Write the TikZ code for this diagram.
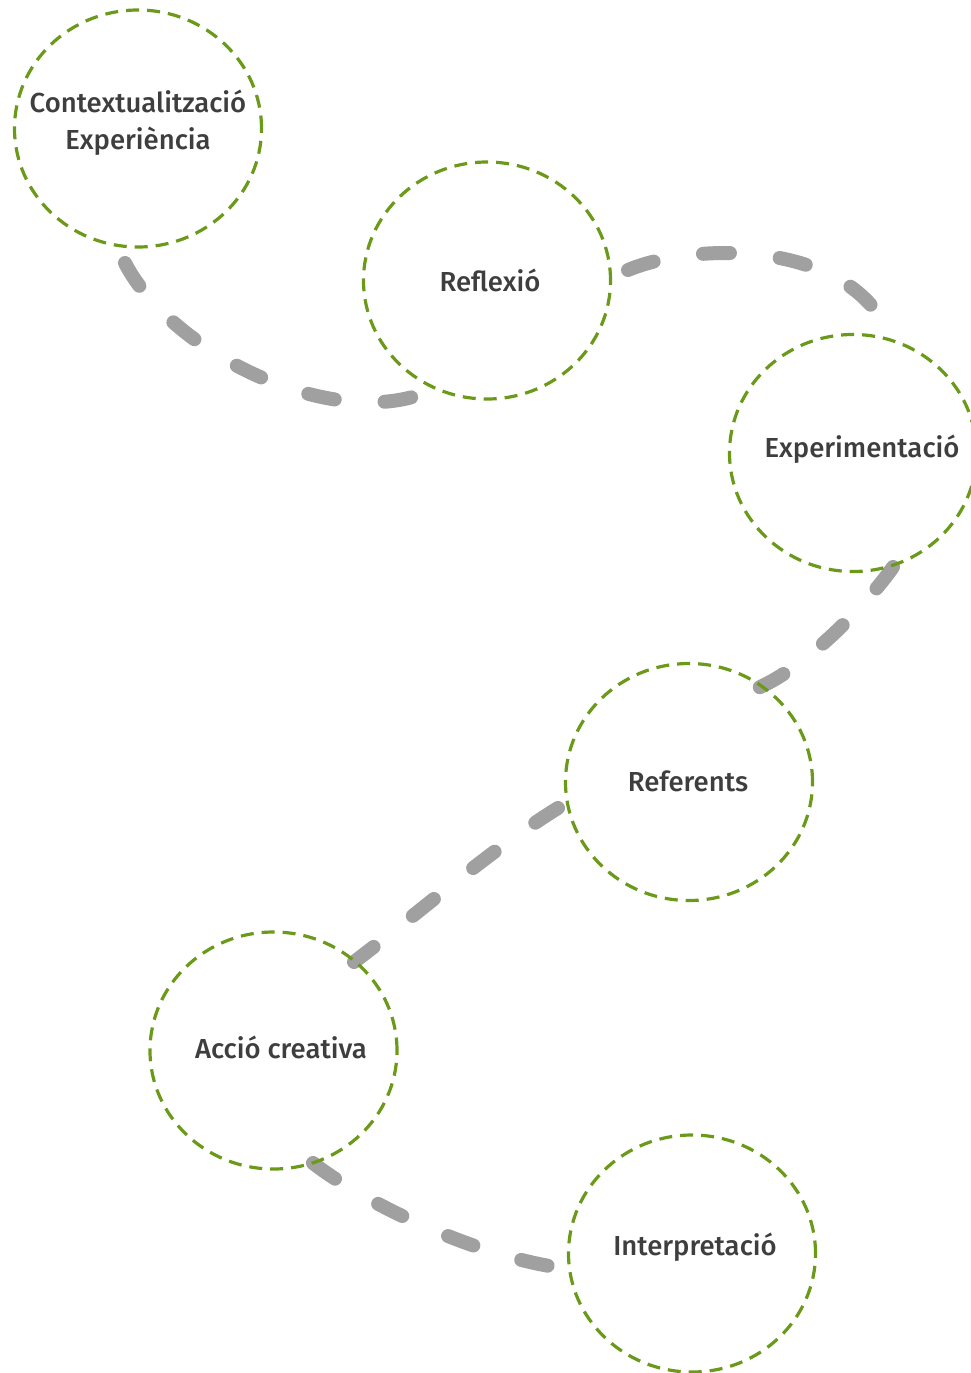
\documentclass[tikz,border=0pt]{standalone}
\usepackage{fontspec}
\setmainfont{Fira Sans}[UprightFont=* Medium]
\usetikzlibrary{shapes.geometric,backgrounds}
\definecolor{ringgreen}{RGB}{107,153,26}
\definecolor{trailgray}{RGB}{160,160,160}
\definecolor{txtgray}{RGB}{62,62,62}
\begin{document}
\begin{tikzpicture}[x=1pt,y=-1pt,
 ring/.style={ellipse, draw=ringgreen, line width=3.2pt, dash pattern=on 13pt off 8pt, minimum width=247pt, minimum height=237pt, inner sep=0pt},
 trail/.style={draw=trailgray, line width=14pt, line cap=round, dash pattern=on 27pt off 50pt},
 lbl/.style={text=txtgray, font=\fontsize{27.5}{37}\selectfont, align=center, inner sep=0pt}]
\useasboundingbox (0,0) rectangle (971,1373);
% rings
\node[ring] (c1) at (138,128.5) {};
\node[ring] (c2) at (487,280.5) {};
\node[ring] (c3) at (853,453) {};
\node[ring] (c4) at (689,782) {};
\node[ring] (c5) at (273.5,1050.5) {};
\node[ring] (c6) at (692,1253.5) {};
% trail ends
\coordinate (a1) at (125,263);
\coordinate (a2) at (416,396);
\coordinate (b1) at (628,270);
\coordinate (b2) at (888,331);
\coordinate (d1) at (893,567);
\coordinate (d2) at (758,688);
\coordinate (e1) at (558,808);
\coordinate (e2) at (354,962);
\coordinate (f1) at (313,1163);
\coordinate (f2) at (562,1268);
\begin{pgfonlayer}{background}
\draw[trail] (a1) .. controls (170,350) and (320,425) .. (a2);
\draw[trail] (b1) .. controls (695,242) and (845,240) .. (b2);
\draw[trail] (d1) .. controls (870,600) and (810,665) .. (d2);
\draw[trail] (e1) .. controls (490,850) and (420,912) .. (e2);
\draw[trail] (f1) .. controls (360,1200) and (470,1255) .. (f2);
\end{pgfonlayer}
% labels
\node[lbl] (t1) at (138,123) {Contextualització\\Experiència};
\node[lbl] (t2) at (490,280) {Reflexió};
\node[lbl] (t3) at (862,449) {Experimentació};
\node[lbl] (t4) at (688,781) {Referents};
\node[lbl] (t5) at (281,1047) {Acció creativa};
\node[lbl] (t6) at (695,1247) {Interpretació};
\end{tikzpicture}
\end{document}
